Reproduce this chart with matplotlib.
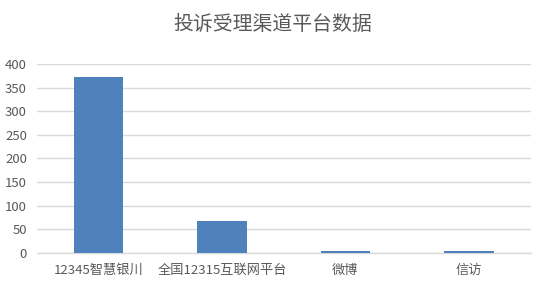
import matplotlib
matplotlib.use("Agg")
import matplotlib.pyplot as plt

plt.rcParams['font.family'] = ['Noto Sans CJK SC', 'DejaVu Sans']

categories = ["12345智慧银川", "全国12315互联网平台", "微博", "信访"]
counts = [372, 67, 3, 3]
y_ticks = [0, 50, 100, 150, 200, 250, 300, 350, 400]
title = "投诉受理渠道平台数据"

text_color = "#595959"
grid_color = "#d9d9d9"
bar_color = "#4f81bd"

fig = plt.figure(figsize=(5.45, 2.93), dpi=100)
ax = fig.add_axes([0.0673, 0.1375, 0.9065, 0.6441])

x = range(len(categories))
ax.bar(x, counts, width=0.4, color=bar_color, zorder=3)

ax.set_xlim(-0.5, len(categories) - 0.5)
ax.set_ylim(0, 400)
ax.set_yticks(y_ticks)
ax.set_xticks(list(x))
ax.set_xticklabels(categories)

ax.grid(axis='y', color=grid_color, linewidth=1, zorder=0)
for side in ['top', 'right', 'left']:
    ax.spines[side].set_visible(False)
ax.spines['bottom'].set_color(grid_color)
ax.spines['bottom'].set_linewidth(1)

ax.tick_params(axis='both', length=0, colors=text_color, labelsize=9.5)
ax.tick_params(axis='y', pad=7)
ax.tick_params(axis='x', pad=8)

fig.text(0.5, 0.915, title, ha='center', va='center', fontsize=14.3,
         color=text_color)

fig.savefig("out.png", dpi=100)
